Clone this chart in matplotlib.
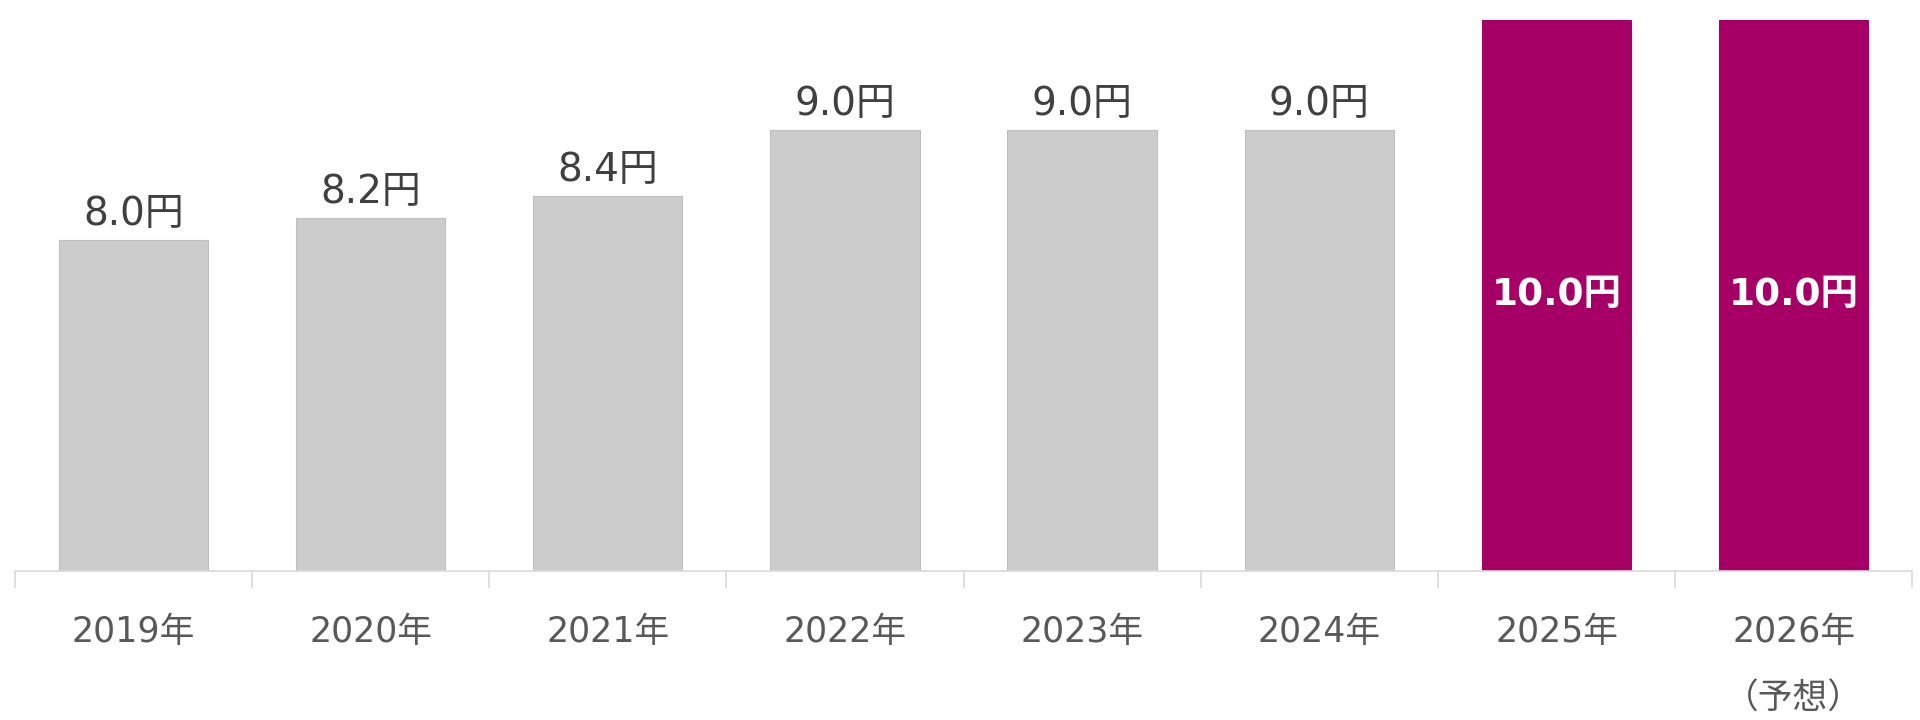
import matplotlib

matplotlib.use("Agg")
import matplotlib.pyplot as plt  # noqa: E402

plt.rcParams["font.family"] = ["DejaVu Sans", "Noto Sans CJK JP"]

years = ["2019年", "2020年", "2021年", "2022年", "2023年", "2024年", "2025年", "2026年"]
dividends = [8.0, 8.2, 8.4, 9.0, 9.0, 9.0, 10.0, 10.0]
highlight = [False, False, False, False, False, False, True, True]
value_labels = ["8.0円", "8.2円", "8.4円", "9.0円", "9.0円", "9.0円", "10.0円", "10.0円"]
note_label = "（予想）"

GRAY = "#CCCCCC"
MAGENTA = "#A60067"
TEXT = "#595959"

fig = plt.figure(figsize=(19.2, 7.2), dpi=100)
ax = fig.add_axes([0.0077, 0.2075, 0.9883, 0.7653])

xs = list(range(len(years)))
colors = [MAGENTA if h else GRAY for h in highlight]
edges = [MAGENTA if h else "#BFBFBF" for h in highlight]
ax.bar(xs, dividends, width=0.63, color=colors, edgecolor=edges, linewidth=0.8)

ax.set_ylim(5, 10)
ax.set_xlim(-0.5, len(years) - 0.5)

for x, v, lab, h in zip(xs, dividends, value_labels, highlight):
    if h:
        ax.text(x, (5 + v) / 2, lab, ha="center", va="center", color="white",
                fontsize=27, fontweight="bold")
    else:
        ax.annotate(lab, (x, v), xytext=(0, 5), textcoords="offset points",
                    ha="center", va="bottom", color="#404040", fontsize=28)

for side in ("left", "right", "top"):
    ax.spines[side].set_visible(False)
ax.spines["bottom"].set_color("#D9D9D9")
ax.spines["bottom"].set_linewidth(1.2)
ax.set_yticks([])

ax.set_xticks(xs)
ax.set_xticklabels(years, fontsize=25, color=TEXT)
ax.tick_params(axis="x", length=0, pad=32)
ax.set_xticks([x - 0.5 for x in xs] + [len(xs) - 0.5], minor=True)
ax.tick_params(axis="x", which="minor", length=12, color="#D9D9D9", width=1.2)

ax.annotate(note_label, (xs[-1], 0), xycoords=("data", "axes fraction"),
            xytext=(0, -92), textcoords="offset points", ha="center", va="center",
            fontsize=25, color=TEXT, annotation_clip=False)

fig.savefig("out.png", dpi=100)
